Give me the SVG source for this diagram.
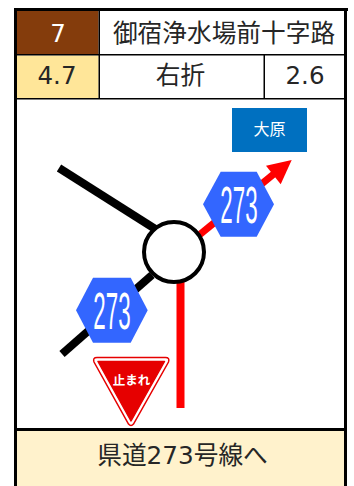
<svg xmlns="http://www.w3.org/2000/svg" width="354" height="486" viewBox="0 0 354 486">
<style>
text{font-family:"DejaVu Sans","Noto Sans CJK JP",sans-serif;text-anchor:middle;fill:#262626}
.hex{fill:#3366FF}
.num{font-family:"Liberation Sans",sans-serif;font-size:52px;fill:#fff}
.blk{stroke:#000;stroke-width:8;fill:none}
.red{stroke:#f00;stroke-width:8;fill:none}
.sep{fill:#000}
</style>
<rect width="354" height="486" fill="#fff"/>
<g id="frame">
<rect x="14" y="8" width="334" height="3" class="sep"/>
<rect x="14" y="8" width="3" height="478" class="sep"/>
<rect x="344" y="8" width="3" height="478" class="sep"/>
</g>
<g id="cell-number"><rect x="17" y="11" width="81.500" height="43" fill="#843C0C"/><text x="58" y="42" font-size="24.500" style="fill:#fff">7</text></g>
<g id="cell-name"><text x="224" y="42" font-size="24.700">御宿浄水場前十字路</text></g>
<g id="cell-dist"><rect x="17" y="55.500" width="81.500" height="42.500" fill="#FFE699"/><text x="57" y="84" font-size="24.500">4.7</text></g>
<g id="cell-action"><text x="180.500" y="84" font-size="24.700">右折</text></g>
<g id="cell-next"><text x="305" y="84" font-size="24.500">2.6</text></g>
<g id="grid">
<rect x="17" y="54" width="327" height="1.500" class="sep"/>
<rect x="17" y="98" width="327" height="1.500" class="sep"/>
<rect x="98.500" y="11" width="1.500" height="87" class="sep"/>
<rect x="263.500" y="55" width="1.500" height="43" class="sep"/>
</g>
<g id="connectors">
<line x1="59" y1="168" x2="160" y2="232" class="blk"/>
<line x1="62" y1="354" x2="152" y2="275" class="blk"/>
<line x1="180.500" y1="280" x2="180.500" y2="408" class="red"/>
<line x1="198" y1="236" x2="275" y2="173" stroke="#f00" stroke-width="7"/>
<polygon points="291.700,160 266,165.700 280.700,184.300" fill="#f00"/>
</g>
<g id="junction"><circle cx="174" cy="252" r="30" fill="#fff" stroke="#000" stroke-width="4"/></g>
<g id="shield-upper">
<polygon class="hex" points="203,204.200 220.700,171.700 256.700,171.700 274,204.200 256.700,236.700 220.700,236.700"/>
<text class="num" transform="translate(239 222.500) scale(.43 1)">273</text>
</g>
<g id="shield-lower">
<polygon class="hex" points="76,310.200 93,277.700 130.700,277.700 147.700,310.200 130.700,342.700 93,342.700"/>
<text class="num" transform="translate(112 328.500) scale(.43 1)">273</text>
</g>
<g id="dest-sign"><rect x="232" y="108" width="75" height="44" fill="#0070C0"/><text x="269.500" y="135" font-size="16" style="fill:#fff">大原</text></g>
<g id="stop-sign">
<path d="M97 357.500H165.500Q170 357.500 168.500 362L133.500 424Q131 427 128.500 424L94 362Q92.500 357.500 97 357.500Z" fill="#fff" stroke="#E60000" stroke-width="1.500"/>
<polygon points="98,361.500 164.500,361.500 131,421" fill="#E60000" stroke="#E60000" stroke-width="1.500" stroke-linejoin="round"/>
<text x="131.500" y="385" font-size="12.500" font-weight="bold" style="fill:#fff">止まれ</text>
</g>
<g id="footer">
<rect x="17" y="428" width="327" height="3" class="sep"/>
<rect x="17" y="431" width="327" height="55" fill="#FFF2CC"/>
<text x="182.500" y="464" font-size="24.700">県道273号線へ</text>
</g>
</svg>
